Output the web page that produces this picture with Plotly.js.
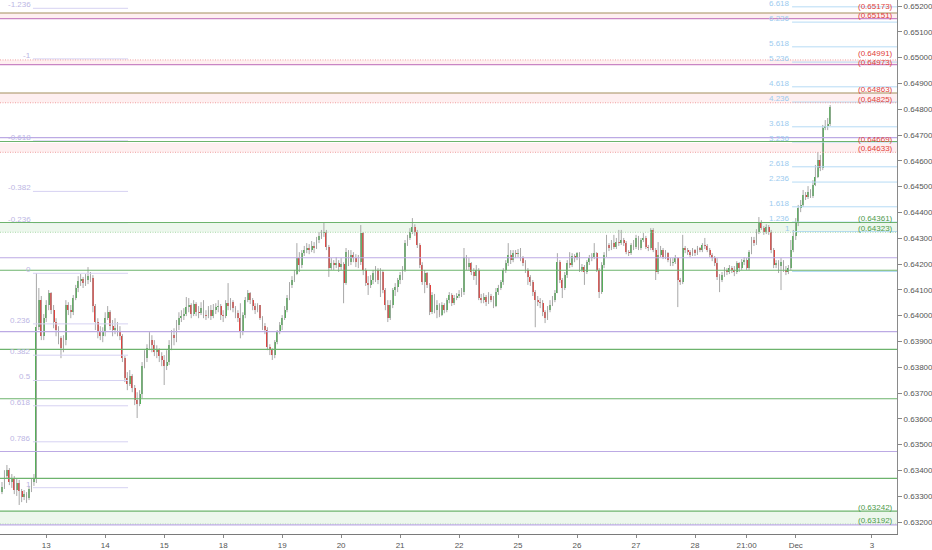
<!DOCTYPE html>
<html><head><meta charset="utf-8">
<script src="https://cdn.plot.ly/plotly-3.0.1.min.js"></script>
<style>html,body{margin:0;padding:0;background:#fff}#chart{width:932px;height:550px}</style>
</head><body><div id="chart"></div>
<script>
// Prices in pipettes (1e-5 units), one value per hourly candle
const firstOpenP = 63316;
const closeP = [
63336,63378,63401,63355,63370,63324,63351,63320,63297,63308,
63293,63328,63355,63367,63955,64060,63920,63990,64041,64087,
64021,63975,63944,63912,63873,63905,64041,64021,64013,64068,
64107,64134,64142,64126,64138,64153,64146,64037,63975,63940,
63920,63936,63990,64013,63959,63944,63951,63940,63920,63835,
63758,63734,63766,63719,63673,63657,63696,63804,63835,63873,
63905,63885,63858,63866,63843,63828,63804,63820,63885,63924,
63912,63963,63990,63998,64006,64033,64041,64006,64045,64013,
64009,64029,64002,63998,64021,63998,64021,64033,64037,64002,
63998,64048,64037,64052,64029,64009,63990,63936,64002,64060,
64087,64060,64037,64021,64041,63990,63959,63944,63877,63866,
63847,63897,63936,63963,63990,64021,64068,64119,64138,64161,
64223,64196,64242,64254,64262,64254,64270,64262,64293,64309,
64320,64324,64266,64184,64203,64196,64203,64188,64200,64126,
64246,64207,64235,64223,64207,64207,64320,64177,64126,64119,
64138,64165,64177,64138,64169,64099,64041,63990,64041,64099,
64111,64138,64157,64177,64281,64301,64324,64343,64324,64274,
64196,64130,64165,64119,64013,64080,64021,64041,64002,64041,
64021,64060,64080,64048,64068,64076,64084,64091,64227,64188,
64203,64169,64153,64177,64068,64060,64072,64052,64076,64060,
64037,64091,64107,64130,64177,64203,64235,64215,64242,64238,
64242,64223,64203,64177,64150,64130,64091,64060,64052,64048,
64013,63990,64021,64041,64060,64087,64207,64138,64107,64157,
64203,64196,64231,64223,64242,64177,64188,64169,64207,64223,
64227,64242,64177,64091,64196,64235,64274,64262,64281,64266,
64285,64281,64293,64281,64246,64242,64274,64266,64301,64262,
64293,64301,64266,64262,64332,64254,64169,64235,64254,64227,
64242,64215,64203,64207,64223,64138,64130,64262,64254,64246,
64235,64254,64242,64262,64254,64274,64270,64254,64235,64223,
64203,64150,64138,64157,64177,64169,64184,64177,64169,64203,
64184,64207,64215,64184,64246,64293,64281,64324,64362,64339,
64324,64343,64324,64254,64196,64203,64192,64207,64177,64169,
64184,64254,64309,64362,64417,64429,64468,64460,64479,64464,
64506,64537,64603,64572,64727,64735,64742,64808];
const highP = [
63355,63401,63421,63409,63386,63378,63370,63363,63328,63324,
63316,63340,63370,63386,64165,64107,64076,64006,64060,64099,
64091,64041,63990,63959,63920,63924,64060,64052,64041,64080,
64119,64153,64161,64150,64161,64188,64169,64157,64045,63990,
63959,63955,64013,64037,64021,63983,63990,63975,63959,63928,
63843,63781,63789,63773,63731,63703,63711,63820,63866,63889,
63936,63924,63905,63885,63873,63858,63847,63866,63905,63944,
63951,63983,64013,64021,64029,64072,64068,64048,64060,64052,
64037,64052,64060,64021,64037,64041,64045,64048,64060,64045,
64021,64060,64126,64068,64060,64037,64021,64048,64013,64072,
64099,64091,64068,64048,64048,64041,63998,63971,63955,63889,
63873,63905,63944,63975,64002,64037,64080,64130,64153,64177,
64281,64246,64254,64270,64281,64277,64289,64285,64305,64324,
64332,64362,64332,64274,64223,64215,64227,64215,64223,64207,
64262,64254,64254,64246,64238,64235,64351,64324,64184,64153,
64157,64177,64192,64184,64184,64177,64107,64060,64060,64107,
64126,64146,64169,64192,64293,64313,64339,64378,64354,64332,
64281,64207,64177,64169,64126,64091,64084,64060,64048,64052,
64048,64068,64091,64087,64080,64087,64099,64107,64262,64235,
64223,64207,64184,64196,64184,64084,64087,64080,64091,64084,
64076,64107,64119,64138,64184,64215,64281,64254,64254,64254,
64258,64262,64231,64215,64184,64157,64138,64099,64076,64068,
64060,64021,64037,64060,64076,64099,64242,64215,64146,64169,
64215,64246,64242,64238,64246,64246,64200,64196,64215,64235,
64242,64281,64246,64184,64207,64246,64313,64281,64293,64313,
64301,64332,64332,64301,64289,64254,64281,64293,64313,64309,
64301,64320,64309,64274,64339,64339,64262,64285,64270,64262,
64254,64246,64223,64223,64235,64227,64146,64313,64270,64262,
64254,64262,64258,64270,64266,64281,64301,64277,64262,64242,
64231,64223,64161,64169,64188,64184,64196,64192,64192,64211,
64207,64219,64227,64223,64254,64305,64305,64335,64382,64370,
64347,64354,64351,64332,64262,64215,64215,64223,64215,64192,
64196,64293,64332,64378,64429,64448,64487,64479,64502,64490,
64525,64584,64634,64623,64739,64758,64766,64816];
const lowP = [
63308,63328,63370,63343,63332,63308,63301,63266,63277,63285,
63274,63285,63316,63340,63351,63944,63905,63905,63975,64021,
64006,63951,63920,63889,63835,63858,63885,64002,63990,64002,
64060,64091,64115,64107,64115,64122,64130,64013,63944,63912,
63905,63897,63920,63983,63944,63920,63928,63920,63905,63820,
63742,63711,63727,63703,63653,63603,63649,63680,63796,63820,
63866,63858,63843,63835,63820,63804,63731,63789,63808,63866,
63885,63897,63944,63975,63983,63998,64013,63990,63998,63998,
63990,64002,63990,63983,63990,63983,63990,64006,64013,63983,
63975,63990,64021,64021,64013,63990,63975,63912,63924,63990,
64052,64045,64021,64006,64013,63983,63944,63928,63866,63847,
63828,63835,63889,63928,63944,63983,64013,64060,64107,64130,
64157,64169,64184,64231,64242,64238,64246,64242,64258,64281,
64297,64305,64254,64150,64177,64177,64184,64169,64177,64048,
64119,64192,64196,64207,64188,64184,64196,64157,64115,64080,
64107,64122,64130,64122,64072,64087,64021,63975,63983,64029,
64076,64091,64122,64138,64169,64270,64293,64316,64309,64262,
64184,64119,64087,64107,64002,64006,64009,63990,63994,63998,
64009,64013,64048,64037,64041,64060,64068,64072,64080,64177,
64177,64157,64138,64119,64060,64048,64048,64037,64045,64052,
64029,64033,64080,64099,64119,64165,64192,64200,64207,64223,
64227,64211,64192,64165,64119,64115,64076,63955,64037,64029,
63998,63971,63983,64013,64037,64052,64087,64126,64068,64099,
64146,64184,64188,64207,64215,64169,64169,64119,64161,64196,
64211,64219,64169,64068,64084,64184,64227,64250,64254,64258,
64258,64270,64274,64270,64238,64231,64235,64254,64258,64254,
64254,64285,64258,64250,64254,64246,64138,64161,64227,64219,
64219,64207,64192,64192,64200,64033,64119,64122,64242,64235,
64227,64231,64231,64235,64246,64246,64258,64246,64227,64211,
64192,64138,64091,64130,64150,64157,64161,64165,64153,64161,
64169,64177,64196,64177,64177,64238,64270,64274,64316,64332,
64313,64316,64313,64242,64184,64184,64165,64099,64169,64157,
64161,64177,64246,64293,64347,64401,64421,64448,64452,64456,
64456,64502,64533,64560,64564,64719,64719,64735];

const tickVals = [18,42,66,90,114,138,162,186,210,234,258,282,303,323,354];
const tickText = ['13','14','15','18','19','20','21','22','25','26','27','28','21:00','Dec','3'];

// Horizontal levels
const greenLines = [0.64675, 0.64361, 0.64176, 0.63869, 0.63678, 0.63369, 0.63242];
const purpleLines = [0.64690, 0.64224, 0.63938, 0.63473, 0.63189];
const oliveLines = [0.65173, 0.64863];
const magentaLines = [0.65151, 0.64973];
const redZoneTop = [0.65173, 0.64991, 0.64863, 0.64669];
const redZoneBottom = [0.65151, 0.64973, 0.64825, 0.64633];
const redDotted = [0.64991, 0.64825, 0.64633];
const greenZoneTop = [0.64361, 0.63242];
const greenZoneBottom = [0.64323, 0.63192];
const redLabels = [0.65173, 0.65151, 0.64991, 0.64973, 0.64863, 0.64825, 0.64669, 0.64633];
const greenLabels = [0.64361, 0.64323, 0.63242, 0.63192];

// Fib retracement (left) and extension (right)
const retrHigh = 0.64164, retrLow = 0.63333;
const retrLevels = [-1.236, -1, -0.618, -0.382, -0.236, 0, 0.236, 0.382, 0.5, 0.618, 0.786, 1];
const retrLabels = ['-1.236','-1','-0.618','-0.382','-0.236','0','0.236','0.382','0.5','0.618','0.786','1'];
const extBase = 0.64171, extOne = 0.64326;
const extLevels = [0, 1, 1.236, 1.618, 2.236, 2.618, 3.236, 3.618, 4.236, 4.618, 5.236, 5.618, 6.236, 6.618];
const extLabels = ['', '1', '1.236', '1.618', '2.236', '2.618', '3.236', '3.618', '4.236', '4.618', '5.236', '5.618', '6.236', '6.618'];

// ---- build ----
const S = 1e5;
const close = closeP.map(v => v / S);
const high = highP.map(v => v / S);
const low = lowP.map(v => v / S);
const open = close.map((c, i) => i === 0 ? firstOpenP / S : close[i - 1]);
const xs = close.map((_, i) => i);

const X0 = -0.81, X1 = 364.2;
const Y0 = 0.631535, Y1 = 0.652233;
const retrX = [12.6, 51.3];
const extX0 = 321.5;

const wx = [], wy = [];
xs.forEach(i => { wx.push(i, i, null); wy.push(high[i], low[i], null); });
const bodyY = close.map((c, i) => { const d = c - open[i]; return Math.abs(d) < 1e-7 ? 0.000006 : d; });
const bodyCol = close.map((c, i) => c >= open[i] ? '#4caf50' : '#e53935');

const traces = [
  { type: 'scatter', mode: 'lines', x: wx, y: wy, line: { color: '#a8a8a8', width: 1 }, hoverinfo: 'skip', showlegend: false },
  { type: 'bar', x: xs, y: bodyY, base: open, width: 0.75, marker: { color: bodyCol, line: { width: 0 } }, hoverinfo: 'skip', showlegend: false }
];

const shapes = [];
const hline = (y, color, dash, width, layer) => shapes.push({ type: 'line', xref: 'paper', x0: 0, x1: 1, yref: 'y', y0: y, y1: y, layer: layer || 'above', line: { color, width: width || 1, dash: dash || 'solid' } });
redZoneTop.forEach((t, i) => shapes.push({ type: 'rect', xref: 'paper', x0: 0, x1: 1, yref: 'y', y0: redZoneBottom[i], y1: t, fillcolor: 'rgba(242,54,69,0.08)', line: { width: 0 }, layer: 'below' }));
greenZoneTop.forEach((t, i) => shapes.push({ type: 'rect', xref: 'paper', x0: 0, x1: 1, yref: 'y', y0: greenZoneBottom[i], y1: t, fillcolor: 'rgba(76,175,80,0.10)', line: { width: 0 }, layer: 'below' }));

// fib lines
retrLevels.forEach(L => { const p = retrHigh - L * (retrHigh - retrLow); shapes.push({ type: 'line', xref: 'x', x0: retrX[0], x1: retrX[1], yref: 'y', y0: p, y1: p, line: { color: '#d6d2f2', width: 1 }, layer: 'above' }); });
extLevels.forEach(L => { const p = extBase + L * (extOne - extBase); shapes.push({ type: 'line', xref: 'x', x0: extX0, x1: X1, yref: 'y', y0: p, y1: p, line: { color: '#b6dbf5', width: 1 }, layer: 'above' }); });

redDotted.forEach(y => hline(y, '#f0a0a0', '1px,1.5px', 1));
greenZoneBottom.forEach(y => hline(y, '#a9d8a9', '1px,1.5px', 1));
purpleLines.forEach(y => hline(y, '#bcaae4', 'solid', 1.1));
greenLines.forEach(y => hline(y, '#6db36d', 'solid', 1.1));
oliveLines.forEach(y => hline(y, '#a38f5e', 'solid', 1.1));
magentaLines.forEach(y => hline(y, '#c985c4', 'solid', 1.1));

const FONT = 'Liberation Sans, Arial, sans-serif';
const annotations = [];
const fmt = v => '(' + v.toFixed(5) + ')';
// small vertical nudges so stacked labels stay readable
const redShift = [1, -2, 1, -3, -2, -2, -2, -2];
redLabels.forEach((v, i) => annotations.push({ xref: 'paper', x: 1, xanchor: 'right', xshift: -3, yref: 'y', y: v, yanchor: 'bottom', yshift: redShift[i], text: fmt(v), showarrow: false, font: { family: FONT, size: 8, color: '#e0403a' }, borderpad: 0 }));
greenLabels.forEach(v => annotations.push({ xref: 'paper', x: 1, xanchor: 'right', xshift: -3, yref: 'y', y: v, yanchor: 'bottom', yshift: -2, text: fmt(v), showarrow: false, font: { family: FONT, size: 8, color: '#4c9a4c' }, borderpad: 0 }));
retrLevels.forEach((L, i) => { const p = retrHigh - L * (retrHigh - retrLow); annotations.push({ xref: 'x', x: retrX[0], xanchor: 'right', xshift: -1, yref: 'y', y: p, yanchor: 'bottom', yshift: -2, text: retrLabels[i], showarrow: false, font: { family: FONT, size: 8, color: '#bcb6e4' }, borderpad: 0 }); });
extLevels.forEach((L, i) => { if (!extLabels[i]) return; const p = extBase + L * (extOne - extBase); annotations.push({ xref: 'x', x: extX0, xanchor: 'right', xshift: -1, yref: 'y', y: p, yanchor: 'bottom', yshift: -2, text: extLabels[i], showarrow: false, font: { family: FONT, size: 8, color: '#9ccbef' }, borderpad: 0 }); });

const layout = {
  width: 932, height: 550,
  margin: { l: 0, r: 35, t: 0, b: 16, pad: 0 },
  paper_bgcolor: '#ffffff', plot_bgcolor: '#ffffff',
  showlegend: false, bargap: 0,
  font: { family: FONT, size: 8, color: '#555' },
  xaxis: { range: [X0, X1], showgrid: false, zeroline: false, showline: true, linecolor: '#7a7a7a', linewidth: 1,
           ticks: 'outside', ticklen: 3, tickcolor: '#888', tickvals: tickVals, ticktext: tickText,
           tickfont: { family: FONT, size: 8, color: '#555' }, fixedrange: true },
  yaxis: { range: [Y0, Y1], side: 'right', showgrid: false, zeroline: false, showline: true, linecolor: '#8a8a8a', linewidth: 1,
           ticks: 'outside', ticklen: 4, tickcolor: '#888', dtick: 0.001, tick0: 0.632, tickformat: '.5f',
           tickfont: { family: FONT, size: 8, color: '#555' }, fixedrange: true },
  shapes, annotations
};
Plotly.newPlot('chart', traces, layout, { staticPlot: true, displayModeBar: false });
</script></body></html>
